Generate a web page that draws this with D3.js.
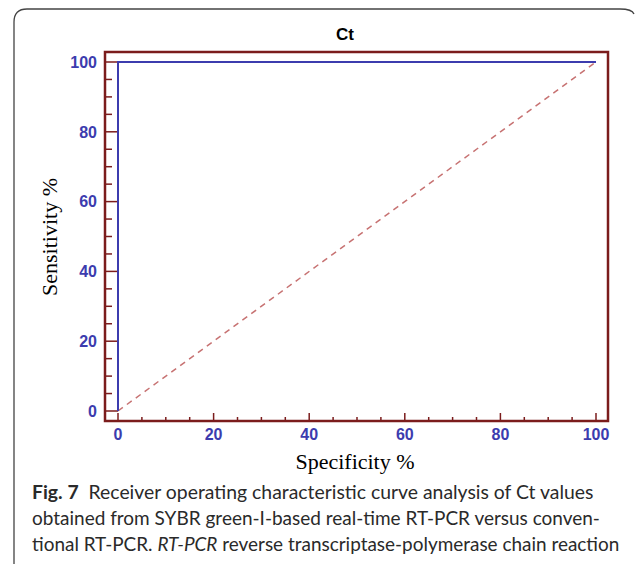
<!DOCTYPE html>
<html>
<head>
<meta charset="utf-8">
<script src="https://cdn.jsdelivr.net/npm/d3@7"></script>
<style>
  body { margin: 0; background: #fff; }
  svg { display: block; }
</style>
</head>
<body>
<svg id="chart" width="635" height="565"></svg>
<script>
// ROC curve points (x = 100 - specificity, y = sensitivity)
var rocX = [0, 0, 100];
var rocY = [0, 100, 100];
// reference diagonal
var diagX = [0, 100];
var diagY = [0, 100];
var majorTicks = [0, 20, 40, 60, 80, 100];
var chartTitle = "Ct";
var xTitle = "Specificity %";
var yTitle = "Sensitivity %";
var captionLines = [
  [{t: "Fig. 7", b: true}, {t: "  Receiver operating characteristic curve analysis of Ct values"}],
  [{t: "obtained from SYBR green-I-based real-time RT-PCR versus conven-"}],
  [{t: "tional RT-PCR. "}, {t: "RT-PCR", i: true}, {t: " reverse transcriptase-polymerase chain reaction"}]
];

var svg = d3.select("#chart");

var frameColor = "#7b1c1c",
    blue = "#3c3cae",
    dashColor = "#c77272";

// card outline
svg.append("path")
    .attr("d", "M14,564 Q14,560 14,552 L14,22 Q14,9 27,9 L620,9 Q632,9 634,14")
    .attr("fill", "none")
    .attr("stroke", "#444")
    .attr("stroke-width", 1.3);

var x = d3.scaleLinear().domain([0, 100]).range([118, 596]);
var y = d3.scaleLinear().domain([0, 100]).range([411, 62]);

var frame = {left: 105, right: 608, top: 52, bottom: 421};

// y axis ticks (inside, from left frame)
var g = svg.append("g");
g.selectAll("line.ytick")
  .data(d3.range(0, 101, 5))
  .enter().append("line")
    .attr("x1", frame.left)
    .attr("x2", function(d) { return frame.left + (d % 20 === 0 ? 13 : 7); })
    .attr("y1", function(d) { return y(d); })
    .attr("y2", function(d) { return y(d); })
    .attr("stroke", frameColor)
    .attr("stroke-width", 1.5);

// x axis ticks (upward from bottom frame)
g.selectAll("line.xtick")
  .data(d3.range(0, 101, 5))
  .enter().append("line")
    .attr("x1", function(d) { return x(d); })
    .attr("x2", function(d) { return x(d); })
    .attr("y1", frame.bottom)
    .attr("y2", function(d) { return frame.bottom - (d % 20 === 0 ? 8 : 4); })
    .attr("stroke", frameColor)
    .attr("stroke-width", 1.5);

// frame
svg.append("rect")
    .attr("x", frame.left)
    .attr("y", frame.top)
    .attr("width", frame.right - frame.left)
    .attr("height", frame.bottom - frame.top)
    .attr("fill", "none")
    .attr("stroke", frameColor)
    .attr("stroke-width", 2.5);

// tick labels
svg.selectAll("text.ylab")
  .data(majorTicks)
  .enter().append("text")
    .attr("x", 97)
    .attr("y", function(d) { return y(d); })
    .attr("dy", "0.36em")
    .attr("text-anchor", "end")
    .attr("font-family", "Liberation Sans, Arial, sans-serif")
    .attr("font-size", 16)
    .attr("font-weight", "bold")
    .attr("fill", blue)
    .text(function(d) { return d; });

svg.selectAll("text.xlab")
  .data(majorTicks)
  .enter().append("text")
    .attr("x", function(d) { return x(d); })
    .attr("y", 440)
    .attr("text-anchor", "middle")
    .attr("font-family", "Liberation Sans, Arial, sans-serif")
    .attr("font-size", 16)
    .attr("font-weight", "bold")
    .attr("fill", blue)
    .text(function(d) { return d; });

// diagonal
svg.append("path")
    .datum(d3.zip(diagX, diagY))
    .attr("d", d3.line().x(function(d) { return x(d[0]); }).y(function(d) { return y(d[1]); }))
    .attr("fill", "none")
    .attr("stroke", dashColor)
    .attr("stroke-width", 1.5)
    .attr("stroke-dasharray", "6,5");

// ROC curve
svg.append("path")
    .datum(d3.zip(rocX, rocY))
    .attr("d", d3.line().x(function(d) { return x(d[0]); }).y(function(d) { return y(d[1]); }))
    .attr("fill", "none")
    .attr("stroke", blue)
    .attr("stroke-width", 2);

// titles
svg.append("text")
    .attr("x", 345)
    .attr("y", 40)
    .attr("text-anchor", "middle")
    .attr("font-family", "Liberation Sans, Arial, sans-serif")
    .attr("font-size", 17)
    .attr("font-weight", "bold")
    .text(chartTitle);

svg.append("text")
    .attr("transform", "translate(57,237) rotate(-90)")
    .attr("text-anchor", "middle")
    .attr("font-family", "Liberation Serif, Times New Roman, serif")
    .attr("font-size", 22)
    .text(yTitle);

svg.append("text")
    .attr("x", 355)
    .attr("y", 469)
    .attr("text-anchor", "middle")
    .attr("font-family", "Liberation Serif, Times New Roman, serif")
    .attr("font-size", 22)
    .text(xTitle);

// caption: size each line so its natural width matches the reference
var capWidths = [562, 568, 588];
var cap = svg.append("g")
    .attr("font-family", "Lato, Open Sans, sans-serif")
    .attr("fill", "#2a2a2a");

captionLines.forEach(function(line, i) {
  var t = cap.append("text")
      .attr("x", 32)
      .attr("y", 499 + i * 26)
      .attr("font-size", 19)
      .attr("xml:space", "preserve");
  line.forEach(function(s) {
    t.append("tspan")
        .attr("font-weight", s.b ? "bold" : null)
        .attr("font-style", s.i ? "italic" : null)
        .text(s.t);
  });
  var len = t.node().getComputedTextLength();
  t.attr("font-size", Math.min(20, 19 * capWidths[i] / len).toFixed(2));
});
</script>
</body>
</html>
